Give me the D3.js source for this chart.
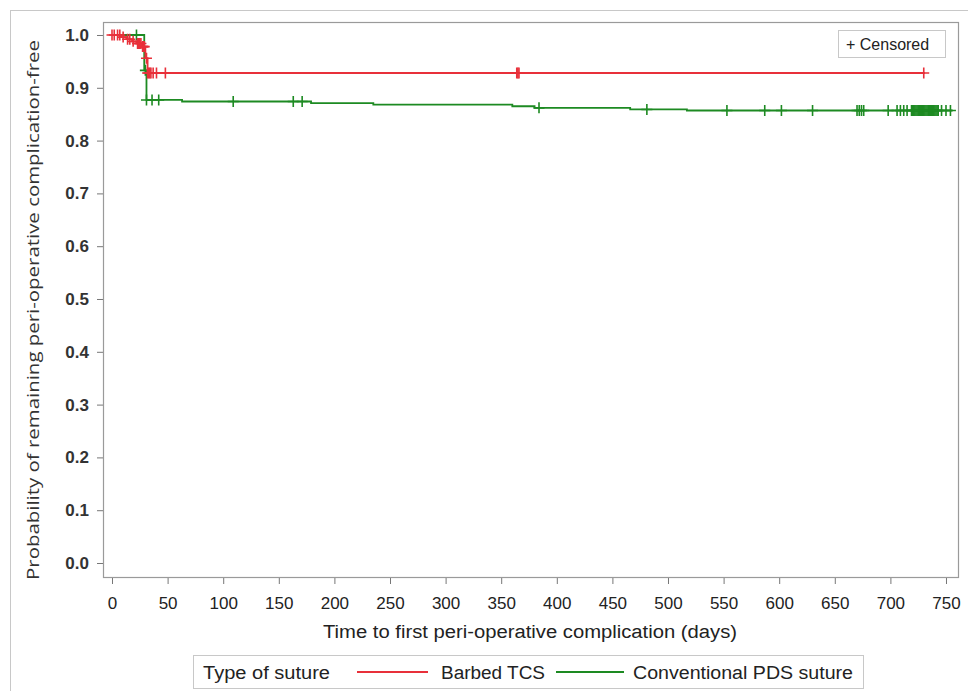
<!DOCTYPE html>
<html>
<head>
<meta charset="utf-8">
<script src="https://cdn.jsdelivr.net/npm/d3@7"></script>
<style>
  body { margin: 0; background: #fff; }
  svg { display: block; }
</style>
</head>
<body>
<div id="chart"></div>
<script>
// Barbed TCS: tid for hvert trinn og overlevelse etter trinnet
const redTimes = [0, 8, 13, 18, 22, 27, 30, 32];
const redSurv = [1.0, 0.996, 0.992, 0.988, 0.984, 0.978, 0.956, 0.928];
const redEnd = 731;
const redCensor = [
  [0, 1.0], [2, 1.0], [5, 1.0], [7, 1.0], [10, 0.996], [14, 0.992], [16, 0.992],
  [19, 0.988], [23, 0.984], [24, 0.984], [25, 0.984], [26, 0.984], [27.5, 0.978],
  [28, 0.978], [29, 0.978], [31, 0.956], [32, 0.928], [33, 0.928], [34, 0.928],
  [35, 0.928], [37, 0.928], [40, 0.928], [48, 0.928], [364, 0.928], [365, 0.928],
  [366, 0.928], [730, 0.928]
];

// Conventional PDS suture
const greenTimes = [0, 29, 31, 63, 179, 235, 360, 380, 466, 517];
const greenSurv = [1.0, 0.933, 0.877, 0.874, 0.871, 0.868, 0.865, 0.862, 0.859, 0.857];
const greenEnd = 756;
const greenCensor = [
  [22, 1.0], [30, 0.933], [31, 0.877], [36, 0.877], [42, 0.877], [109, 0.874],
  [163, 0.874], [171, 0.874], [384, 0.862], [481, 0.859], [553, 0.857], [587, 0.857],
  [602, 0.857], [630, 0.857], [670, 0.857], [672, 0.857], [674, 0.857], [676, 0.857],
  [698, 0.857], [706, 0.857], [709, 0.857], [712, 0.857], [715, 0.857], [719, 0.857],
  [720, 0.857], [721, 0.857], [722, 0.857], [723, 0.857], [724, 0.857], [725, 0.857],
  [726, 0.857], [727, 0.857], [728, 0.857], [729, 0.857], [730, 0.857], [731, 0.857],
  [732, 0.857], [733, 0.857], [734, 0.857], [735, 0.857], [736, 0.857], [737, 0.857],
  [738, 0.857], [739, 0.857], [740, 0.857], [741, 0.857], [742, 0.857], [743, 0.857],
  [746, 0.857], [750, 0.857], [754, 0.857]
];

const xTicks = [0, 50, 100, 150, 200, 250, 300, 350, 400, 450, 500, 550, 600, 650, 700, 750];
const yTicks = [0, 0.1, 0.2, 0.3, 0.4, 0.5, 0.6, 0.7, 0.8, 0.9, 1.0];

const W = 968, H = 691;
const plot = { left: 103, top: 22, right: 958, bottom: 577 };
const RED = "#e8303a", GREEN = "#1d8a22";
const FONT = "'Liberation Sans', Arial, sans-serif";

const svg = d3.select("#chart").append("svg")
  .attr("width", W).attr("height", H);

svg.append("rect").attr("width", W).attr("height", H).attr("fill", "#fff");

// ytre ramme
svg.append("rect")
  .attr("x", 10.5).attr("y", 10.5)
  .attr("width", W).attr("height", H)
  .attr("fill", "none").attr("stroke", "#c8c8c8");

const x = d3.scaleLinear().domain([-8.1, 760.8]).range([plot.left, plot.right]);
const y = d3.scaleLinear().domain([-0.0265, 1.0246]).range([plot.bottom, plot.top]);

// akser
const yAxis = svg.append("g")
  .attr("transform", `translate(${plot.left},0)`)
  .call(d3.axisLeft(y).tickValues(yTicks).tickFormat(d3.format(".1f")).tickSize(6).tickPadding(8));
yAxis.select(".domain").remove();
yAxis.selectAll("line").attr("stroke", "#777");
yAxis.selectAll("text")
  .attr("font-family", FONT).attr("font-size", 17).attr("font-weight", "bold")
  .attr("fill", "#333");

const xAxis = svg.append("g")
  .attr("transform", `translate(0,${plot.bottom})`)
  .call(d3.axisBottom(x).tickValues(xTicks).tickSize(7).tickPadding(13));
xAxis.select(".domain").remove();
xAxis.selectAll("line").attr("stroke", "#777");
xAxis.selectAll("text")
  .attr("font-family", FONT).attr("font-size", 17).attr("fill", "#222");

// plottområde-ramme
svg.append("rect")
  .attr("x", plot.left + 0.5).attr("y", plot.top + 0.5)
  .attr("width", plot.right - plot.left).attr("height", plot.bottom - plot.top)
  .attr("fill", "none").attr("stroke", "#9a9a9a").attr("stroke-width", 1.2);

// aksetitler
svg.append("text")
  .attr("x", 530).attr("y", 638)
  .attr("text-anchor", "middle")
  .attr("font-family", FONT).attr("font-size", 18).attr("fill", "#222")
  .attr("textLength", 414).attr("lengthAdjust", "spacingAndGlyphs")
  .text("Time to first peri-operative complication (days)");

svg.append("text")
  .attr("transform", "translate(39,310) rotate(-90)")
  .attr("text-anchor", "middle")
  .attr("font-family", "'Open Sans', 'Noto Sans', sans-serif").attr("font-size", 17).attr("fill", "#333")
  .attr("textLength", 540).attr("lengthAdjust", "spacingAndGlyphs")
  .text("Probability of remaining peri-operative complication-free");

// Kaplan-Meier-kurver
const stepLine = d3.line()
  .x(d => x(d[0]))
  .y(d => y(d[1]))
  .curve(d3.curveStepAfter);

function curve(times, surv, end, color) {
  const pts = times.map((t, i) => [t, surv[i]]);
  pts.push([end, surv[surv.length - 1]]);
  svg.append("path")
    .datum(pts)
    .attr("fill", "none")
    .attr("stroke", color)
    .attr("stroke-width", 1.8)
    .attr("d", stepLine);
}

function censor(data, color) {
  const s = 5.5;
  svg.append("g").selectAll("path")
    .data(data)
    .join("path")
    .attr("d", d => {
      const cx = x(d[0]), cy = y(d[1]);
      return `M${cx - s},${cy}H${cx + s}M${cx},${cy - s}V${cy + s}`;
    })
    .attr("stroke", color)
    .attr("stroke-width", 1.6)
    .attr("fill", "none");
}

curve(greenTimes, greenSurv, greenEnd, GREEN);
censor(greenCensor, GREEN);
curve(redTimes, redSurv, redEnd, RED);
censor(redCensor, RED);

// "+ Censored"-boks
svg.append("rect")
  .attr("x", 838.5).attr("y", 30.5).attr("width", 107).attr("height", 27)
  .attr("fill", "#fff").attr("stroke", "#c8c8c8");
svg.append("text")
  .attr("x", 846).attr("y", 50)
  .attr("font-family", FONT).attr("font-size", 16).attr("fill", "#222")
  .text("+ Censored");

// forklaring nederst
const lg = svg.append("g");
lg.append("rect")
  .attr("x", 193.5).attr("y", 655.5).attr("width", 670).attr("height", 33)
  .attr("fill", "#fff").attr("stroke", "#c8c8c8");
lg.append("text")
  .attr("x", 203).attr("y", 679)
  .attr("font-family", FONT).attr("font-size", 18).attr("fill", "#222")
  .attr("textLength", 127).attr("lengthAdjust", "spacingAndGlyphs")
  .text("Type of suture");
lg.append("line")
  .attr("x1", 357).attr("x2", 428).attr("y1", 672).attr("y2", 672)
  .attr("stroke", RED).attr("stroke-width", 1.8);
lg.append("text")
  .attr("x", 441).attr("y", 679)
  .attr("font-family", FONT).attr("font-size", 18).attr("fill", "#222")
  .attr("textLength", 104).attr("lengthAdjust", "spacingAndGlyphs")
  .text("Barbed TCS");
lg.append("line")
  .attr("x1", 556).attr("x2", 624).attr("y1", 672).attr("y2", 672)
  .attr("stroke", GREEN).attr("stroke-width", 1.8);
lg.append("text")
  .attr("x", 633).attr("y", 679)
  .attr("font-family", FONT).attr("font-size", 18).attr("fill", "#222")
  .attr("textLength", 220).attr("lengthAdjust", "spacingAndGlyphs")
  .text("Conventional PDS suture");
</script>
</body>
</html>
